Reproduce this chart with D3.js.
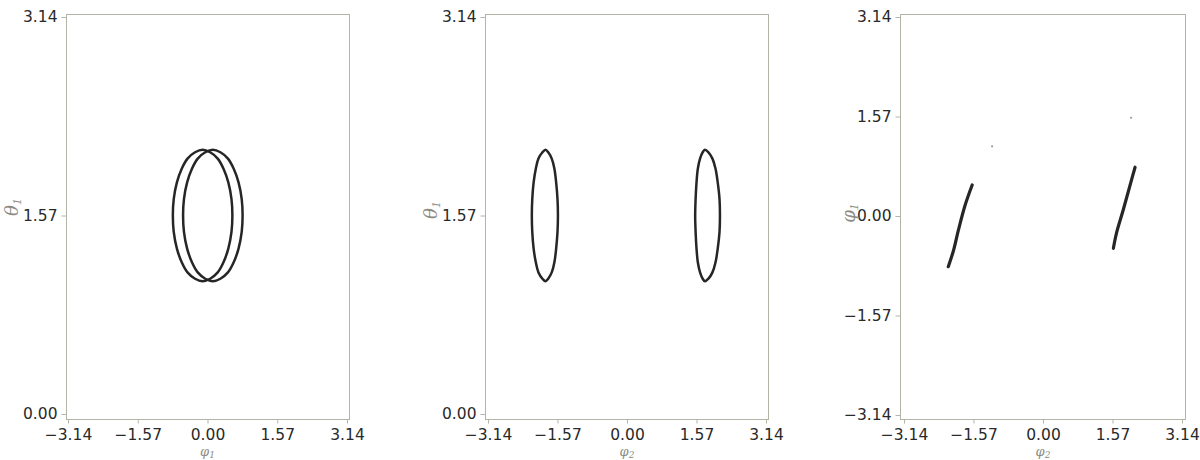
<!DOCTYPE html>
<html>
<head>
<meta charset="utf-8">
<script src="https://cdn.jsdelivr.net/npm/d3@7"></script>
<style>
  body { margin: 0; background: #fff; }
  svg { display: block; }
</style>
</head>
<body>
<svg width="1200" height="460"></svg>
<script>
// tick values (radians)
const piTicks = [-3.14, -1.57, 0, 1.57, 3.14];
const thetaTicks = [0, 1.57, 3.14];

// theta1 values around each closed orbit (shared by panels 1 and 2)
const thetaRing = [1.57, 1.70, 1.83, 1.94, 2.02, 2.07, 2.09, 2.07, 2.02, 1.94, 1.83, 1.70,
                   1.57, 1.44, 1.31, 1.20, 1.12, 1.07, 1.05, 1.07, 1.12, 1.20, 1.31, 1.44];

// panel 1: phi1 of the two orbits
const phi1RingA = [0.56, 0.54, 0.47, 0.36, 0.23, 0.06, -0.11, -0.28, -0.45, -0.58, -0.69, -0.76,
                   -0.78, -0.76, -0.69, -0.58, -0.45, -0.28, -0.11, 0.06, 0.23, 0.36, 0.47, 0.54];
const phi1RingB = [0.79, 0.77, 0.70, 0.59, 0.46, 0.29, 0.12, -0.05, -0.22, -0.35, -0.46, -0.53,
                   -0.55, -0.53, -0.46, -0.35, -0.22, -0.05, 0.12, 0.29, 0.46, 0.59, 0.70, 0.77];

// panel 2: phi2 of the two orbits
const phi2RingL = [-1.56, -1.57, -1.60, -1.64, -1.70, -1.78, -1.84, -1.91, -2.00, -2.06, -2.11, -2.14,
                   -2.15, -2.14, -2.11, -2.06, -2.00, -1.91, -1.84, -1.78, -1.70, -1.64, -1.60, -1.57];
const phi2RingR = [2.10, 2.09, 2.05, 2.00, 1.93, 1.84, 1.76, 1.71, 1.65, 1.60, 1.57, 1.55,
                   1.54, 1.55, 1.57, 1.60, 1.65, 1.71, 1.76, 1.84, 1.93, 2.00, 2.05, 2.09];

// panel 3: phi2 vs phi1 segments
const segLeftX = [-2.14, -2.02, -1.91, -1.76, -1.60];
const segLeftY = [-0.80, -0.54, -0.22, 0.17, 0.49];
const segRightX = [1.59, 1.66, 1.81, 2.00, 2.08];
const segRightY = [-0.51, -0.27, 0.09, 0.57, 0.77];
const strayX = [-1.15, 1.99];
const strayY = [1.10, 1.55];

const zip = (xs, ys) => xs.map((x, i) => [x, ys[i]]);

const panels = [
  {
    frame: [66, 349], xr: [68, 347], yDomain: [0, 3.14], yr: [414, 17], yTicks: thetaTicks,
    xTitle: '\u03c6', xSub: '1', yTitle: '\u03b8', ySub: '1', yTitleX: 12, yTitleY: 207,
    curves: [zip(phi1RingA, thetaRing), zip(phi1RingB, thetaRing)], closed: true, dots: []
  },
  {
    frame: [485, 768], xr: [488, 766], yDomain: [0, 3.14], yr: [414, 17], yTicks: thetaTicks,
    xTitle: '\u03c6', xSub: '2', yTitle: '\u03b8', ySub: '1', yTitleX: 431, yTitleY: 210,
    curves: [zip(phi2RingL, thetaRing), zip(phi2RingR, thetaRing)], closed: true, dots: []
  },
  {
    frame: [900, 1185], xr: [904, 1182], yDomain: [-3.14, 3.14], yr: [415, 17], yTicks: piTicks,
    xTitle: '\u03c6', xSub: '2', yTitle: '\u03c6', ySub: '1', yTitleX: 849, yTitleY: 213,
    curves: [zip(segLeftX, segLeftY), zip(segRightX, segRightY)], closed: false,
    dots: zip(strayX, strayY)
  }
];

const svg = d3.select('svg');
const frameTop = 14, frameBottom = 419;
const frameColor = '#b4b4a6';
const fmt = d3.format('.2f');

panels.forEach(p => {
  const x = d3.scaleLinear().domain([-3.14, 3.14]).range(p.xr);
  const y = d3.scaleLinear().domain(p.yDomain).range(p.yr);
  const g = svg.append('g');

  // frame
  g.append('rect')
    .attr('x', p.frame[0] + 0.5).attr('y', frameTop + 0.5)
    .attr('width', p.frame[1] - p.frame[0]).attr('height', frameBottom - frameTop)
    .attr('fill', 'none').attr('stroke', frameColor).attr('stroke-width', 1);

  // axes
  const xAxis = g.append('g')
    .attr('transform', `translate(0,${frameBottom + 0.5})`)
    .call(d3.axisBottom(x).tickValues(piTicks).tickFormat(fmt).tickSize(4).tickPadding(5));
  const yAxis = g.append('g')
    .attr('transform', `translate(${p.frame[0] + 0.5},0)`)
    .call(d3.axisLeft(y).tickValues(p.yTicks).tickFormat(fmt).tickSize(5).tickPadding(4));
  [xAxis, yAxis].forEach(a => {
    a.select('.domain').remove();
    a.selectAll('line').attr('stroke', frameColor);
    a.selectAll('text')
      .attr('fill', '#2a2a2a')
      .style('font-family', 'DejaVu Sans, sans-serif')
      .style('font-size', '15.5px');
  });

  // axis titles
  const xt = g.append('text')
    .attr('x', x(0)).attr('y', 456)
    .attr('text-anchor', 'middle')
    .attr('fill', '#8c8c84')
    .style('font-family', 'DejaVu Serif, serif')
    .style('font-style', 'italic')
    .style('font-size', '13px')
    .text(p.xTitle);
  xt.append('tspan').attr('dy', 2).style('font-size', '9px').text(p.xSub);

  const yt = g.append('text')
    .attr('transform', `translate(${p.yTitleX + 6},${p.yTitleY}) rotate(-90)`)
    .attr('text-anchor', 'middle')
    .attr('fill', '#8c8c84')
    .style('font-family', 'DejaVu Serif, serif')
    .style('font-style', 'italic')
    .style('font-size', '18px')
    .text(p.yTitle);
  yt.append('tspan').attr('dy', 3).style('font-size', '11px').text(p.ySub);

  // orbits
  const line = d3.line()
    .x(d => x(d[0])).y(d => y(d[1]))
    .curve(p.closed ? d3.curveCatmullRomClosed : d3.curveCatmullRom);
  g.selectAll('path.orbit')
    .data(p.curves)
    .enter().append('path')
    .attr('class', 'orbit')
    .attr('d', line)
    .attr('fill', 'none')
    .attr('stroke', '#262626')
    .attr('stroke-width', p.closed ? 2.5 : 3.2)
    .attr('stroke-linecap', 'round');

  g.selectAll('circle.stray')
    .data(p.dots)
    .enter().append('circle')
    .attr('class', 'stray')
    .attr('cx', d => x(d[0])).attr('cy', d => y(d[1]))
    .attr('r', 1.1)
    .attr('fill', '#999');
});
</script>
</body>
</html>
